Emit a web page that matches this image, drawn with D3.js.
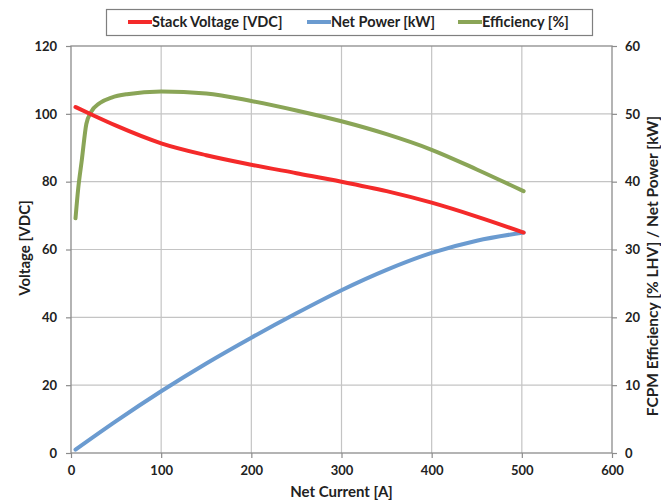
<!DOCTYPE html>
<html>
<head>
<meta charset="utf-8">
<script src="https://cdn.jsdelivr.net/npm/d3@7"></script>
<style>
body { margin: 0; background: #fff; }
text { font-family: Lato, "Open Sans", sans-serif; font-weight: 700; fill: #222; }
</style>
</head>
<body>
<script>
// values
var voltCurrent = [5, 25, 50, 100, 150, 200, 250, 300, 350, 400, 450, 502];
var voltValues  = [102, 99.5, 96.5, 91.3, 87.8, 85, 82.5, 80, 77.2, 73.8, 69.7, 65];

var powerCurrent = [5, 50, 100, 150, 200, 250, 300, 350, 400, 450, 502];
var powerValues  = [0.5, 4.7, 9.1, 13.2, 17, 20.6, 24, 27, 29.5, 31.3, 32.5];

var effCurrent = [5, 8, 12, 17, 22, 32, 45, 62, 100, 150, 200, 250, 300, 350, 400, 450, 502];
var effValues  = [34.6, 39, 43.2, 48.5, 50.2, 51.6, 52.4, 52.9, 53.3, 53.0, 51.9, 50.5, 48.9, 47.0, 44.7, 41.8, 38.6];

var xTicks = [0, 100, 200, 300, 400, 500, 600];
var leftTicks = [0, 20, 40, 60, 80, 100, 120];
var rightTicks = [0, 10, 20, 30, 40, 50, 60];

var legendNames = ["Stack Voltage [VDC]", "Net Power [kW]", "Efficiency [%]"];
var colors = ["#f42a2a", "#6b9bd0", "#8aa557"];

var W = 661, H = 504;
var margin = {top: 46, right: 49, bottom: 51, left: 71},
    width = W - margin.left - margin.right,
    height = H - margin.top - margin.bottom;

var svg = d3.select("body").append("svg")
    .attr("width", W)
    .attr("height", H);

var g = svg.append("g")
    .attr("transform", "translate(" + margin.left + "," + margin.top + ")");

var x = d3.scaleLinear().domain([0, 600]).range([0, width]);
var yL = d3.scaleLinear().domain([0, 120]).range([height, 0]);
var yR = d3.scaleLinear().domain([0, 60]).range([height, 0]);

// gridlines
g.append("g").selectAll("line").data(xTicks.slice(1, -1)).enter().append("line")
    .attr("x1", function(d) { return x(d); }).attr("x2", function(d) { return x(d); })
    .attr("y1", 0).attr("y2", height)
    .attr("stroke", "#c4c4c4").attr("stroke-width", 1.2);
g.append("g").selectAll("line").data(leftTicks.slice(1, -1)).enter().append("line")
    .attr("x1", 0).attr("x2", width)
    .attr("y1", function(d) { return yL(d); }).attr("y2", function(d) { return yL(d); })
    .attr("stroke", "#c4c4c4").attr("stroke-width", 1.2);

// frame
g.append("rect").attr("width", width).attr("height", height)
    .attr("fill", "none").attr("stroke", "#8c8c8c").attr("stroke-width", 1.3);

var xAxis = d3.axisBottom(x).tickValues(xTicks).tickSize(5).tickPadding(8);
var yAxisL = d3.axisLeft(yL).tickValues(leftTicks).tickSize(5).tickPadding(9);
var yAxisR = d3.axisRight(yR).tickValues(rightTicks).tickSize(5).tickPadding(8);

function styleAxis(sel) {
  sel.select(".domain").remove();
  sel.selectAll(".tick line").attr("stroke", "#8c8c8c").attr("stroke-width", 1.2);
  sel.selectAll(".tick text").style("font-size", "13px").style("font-weight", 700).attr("fill", "#222");
}

g.append("g").attr("transform", "translate(0," + height + ")").call(xAxis).call(styleAxis);
g.append("g").call(yAxisL).call(styleAxis);
g.append("g").attr("transform", "translate(" + width + ",0)").call(yAxisR).call(styleAxis);

// axis titles
g.append("text")
    .attr("x", width / 2).attr("y", height + 44)
    .attr("text-anchor", "middle").style("font-size", "15px")
    .text("Net Current [A]");
svg.append("text")
    .attr("transform", "translate(30,248) rotate(-90)")
    .attr("text-anchor", "middle").style("font-size", "15px")
    .text("Voltage [VDC]");
svg.append("text")
    .attr("transform", "translate(658,266) rotate(-90)")
    .attr("text-anchor", "middle").style("font-size", "15.5px")
    .text("FCPM Efficiency [% LHV] / Net Power [kW]");

// series
function pts(xs, ys) { return xs.map(function(d, i) { return [d, ys[i]]; }); }

var lineL = d3.line().x(function(d) { return x(d[0]); }).y(function(d) { return yL(d[1]); }).curve(d3.curveMonotoneX);
var lineR = d3.line().x(function(d) { return x(d[0]); }).y(function(d) { return yR(d[1]); }).curve(d3.curveMonotoneX);

g.append("path").datum(pts(effCurrent, effValues))
    .attr("d", lineR).attr("fill", "none").attr("stroke", colors[2])
    .attr("stroke-width", 4).attr("stroke-linecap", "round");
g.append("path").datum(pts(powerCurrent, powerValues))
    .attr("d", lineR).attr("fill", "none").attr("stroke", colors[1])
    .attr("stroke-width", 4).attr("stroke-linecap", "round");
g.append("path").datum(pts(voltCurrent, voltValues))
    .attr("d", lineL).attr("fill", "none").attr("stroke", colors[0])
    .attr("stroke-width", 4).attr("stroke-linecap", "round");

// legend
var legend = svg.append("g");
legend.append("rect")
    .attr("x", 106.5).attr("y", 9.5).attr("width", 486).attr("height", 26)
    .attr("fill", "#fff").attr("stroke", "#7f7f7f").attr("stroke-width", 1.2);
var legX = [128, 307, 458];
legendNames.forEach(function(name, i) {
  legend.append("line")
      .attr("x1", legX[i]).attr("x2", legX[i] + 24)
      .attr("y1", 22).attr("y2", 22)
      .attr("stroke", colors[i]).attr("stroke-width", 4);
  legend.append("text")
      .attr("x", legX[i] + 24).attr("y", 27)
      .style("font-size", "14.5px")
      .text(name);
});
</script>
</body>
</html>
